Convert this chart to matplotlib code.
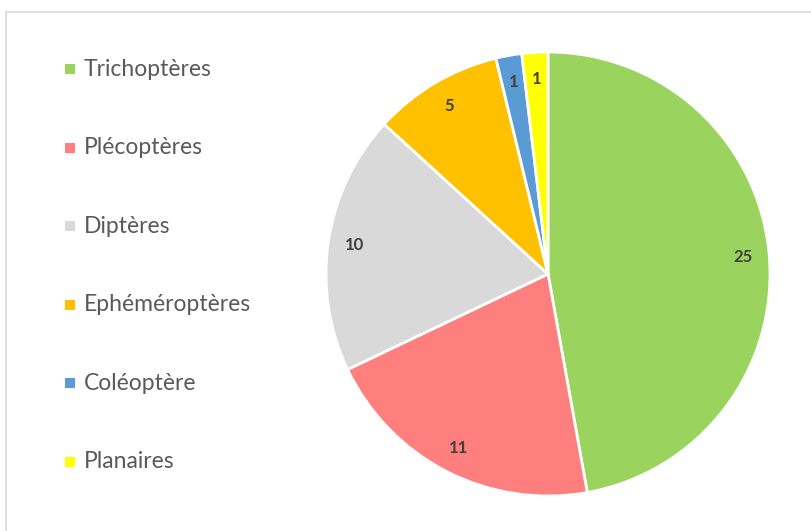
import matplotlib.pyplot as plt
from matplotlib.patches import Rectangle

# Pie data
categories = ['Trichoptères', 'Plécoptères', 'Diptères', 'Ephéméroptères', 'Coléoptère', 'Planaires']
counts = [25, 11, 10, 5, 1, 1]
colors = ['#9BD35F', '#FF7F7F', '#D9D9D9', '#FFC000', '#5B9BD5', '#FFFF00']

plt.rcParams['font.family'] = ['Lato', 'DejaVu Sans']

fig = plt.figure(figsize=(8.11, 5.31), dpi=100)

# light gray frame like the spreadsheet chart area
fig.patches.append(Rectangle((6 / 811, -0.05), 1.0, 1 - 12 / 531 + 0.05,
                             transform=fig.transFigure, fill=False,
                             edgecolor='#D9D9D9', linewidth=1.2))

ax = fig.add_axes([326 / 811, 35 / 531, 444 / 811, 444 / 531])
wedges, texts, autotexts = ax.pie(
    counts, colors=colors, startangle=90, counterclock=False, radius=1,
    autopct=lambda p: '{:.0f}'.format(p * sum(counts) / 100),
    pctdistance=0.88,
    wedgeprops=dict(edgecolor='white', linewidth=2),
    textprops=dict(color='#404040', fontsize=12, fontweight='bold'))
ax.set_xlim(-1.0, 1.0)
ax.set_ylim(-1.0, 1.0)
ax.axis('off')

# legend on the left, one entry per category
for i, (name, col) in enumerate(zip(categories, colors)):
    y = 1 - (69 + i * 78.6) / 531
    fig.patches.append(Rectangle((65 / 811, y - 5 / 531), 10 / 811, 10 / 531,
                                 transform=fig.transFigure, facecolor=col,
                                 edgecolor='none'))
    fig.text(84 / 811, y, name, fontsize=16.5, color='#595959', va='center', ha='left')

fig.savefig('out.png', dpi=100)
